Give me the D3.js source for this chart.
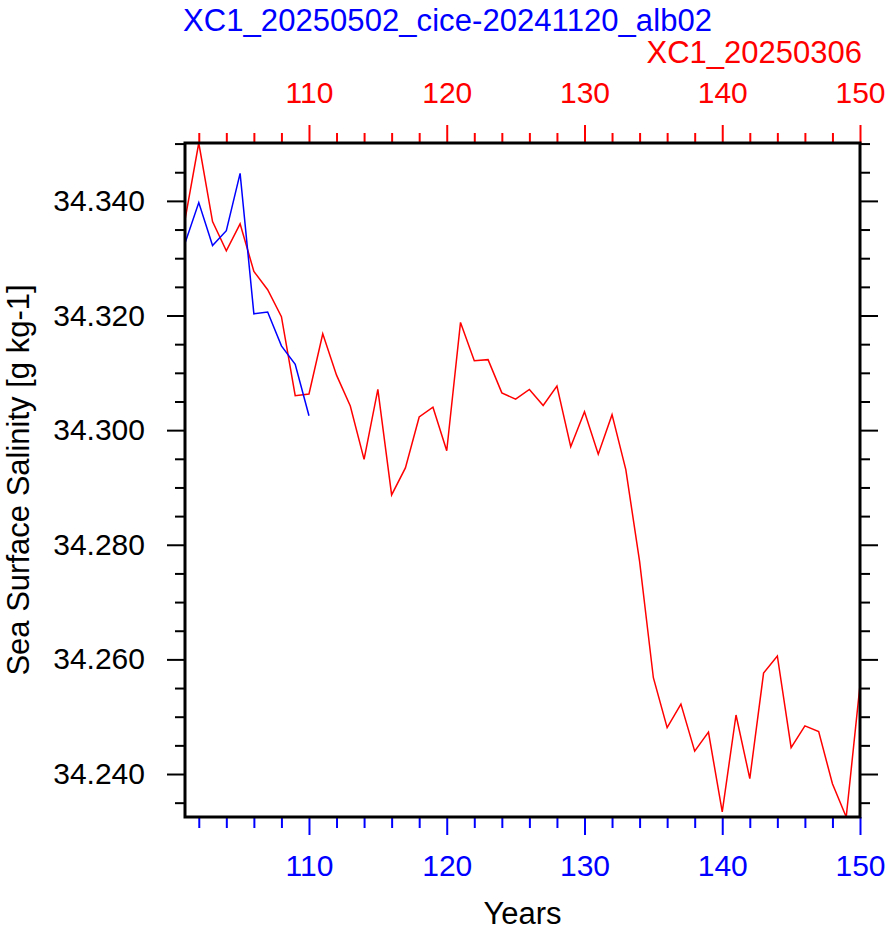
<!DOCTYPE html>
<html>
<head>
<meta charset="utf-8">
<script src="https://cdn.jsdelivr.net/npm/d3@7"></script>
<style>
  body { margin: 0; background: #fff; }
  text { font-family: "Liberation Sans", Arial, Helvetica, sans-serif; }
</style>
</head>
<body>
<div id="canvas"></div>
<script>
// years and salinity values (g/kg)
var yearsRed = d3.range(101, 151);
var sssRed = [34.3367, 34.3501, 34.3364, 34.3313, 34.3360, 34.3277, 34.3245, 34.3198, 34.3060, 34.3063,
              34.3168, 34.3096, 34.3042, 34.2949, 34.3071, 34.2887, 34.2934, 34.3023, 34.3040, 34.2964,
              34.3188, 34.3121, 34.3123, 34.3065, 34.3054, 34.3071, 34.3043, 34.3077, 34.2971, 34.3032,
              34.2958, 34.3027, 34.2931, 34.2771, 34.2568, 34.2481, 34.2522, 34.2440, 34.2473, 34.2334,
              34.2503, 34.2392, 34.2576, 34.2606, 34.2446, 34.2484, 34.2474, 34.2383, 34.2325, 34.2555];
var yearsBlue = d3.range(101, 111);
var sssBlue = [34.3326, 34.3397, 34.3322, 34.3348, 34.3448, 34.3203, 34.3206, 34.3147, 34.3115, 34.3025];
var yTicks = [34.24, 34.26, 34.28, 34.30, 34.32, 34.34];
var xTicks = [110, 120, 130, 140, 150];
var nameBlue = "XC1_20250502_cice-20241120_alb02";
var nameRed = "XC1_20250306";

var W = 889, H = 931;
var margin = {left: 185, right: 29, top: 143, bottom: 114};
var width = W - margin.left - margin.right;
var height = H - margin.top - margin.bottom;

var svg = d3.select("#canvas").append("svg")
  .attr("width", W)
  .attr("height", H);
var g = svg.append("g")
  .attr("transform", "translate(" + margin.left + "," + margin.top + ")");

var x = d3.scaleLinear().domain([101, 150]).range([0, width]);
var allVals = sssRed.concat(sssBlue);
var y = d3.scaleLinear().domain(d3.extent(allVals)).range([height, 0]);

var minorX = d3.range(102, 151, 2).filter((d) => d % 10 !== 0);
var minorY = d3.range(34.235, 34.3501, 0.005).filter((d) => Math.abs(Math.round(d * 1000) % 20) > 0.5 && d >= y.domain()[0]);

function styleAxis(sel, color) {
  sel.select(".domain").remove();
  sel.selectAll("line").attr("stroke", color).attr("stroke-width", 2);
  sel.selectAll("text").attr("fill", color).attr("font-size", "30px");
}

// bottom axis (blue)
g.append("g").attr("transform", "translate(0," + height + ")")
  .call(d3.axisBottom(x).tickValues(minorX).tickSize(11).tickFormat(""))
  .call(styleAxis, "blue");
g.append("g").attr("transform", "translate(0," + height + ")")
  .call(d3.axisBottom(x).tickValues(xTicks).tickSize(18).tickPadding(20).tickFormat(d3.format("d")))
  .call(styleAxis, "blue");

// top axis (red)
g.append("g")
  .call(d3.axisTop(x).tickValues(minorX).tickSize(10).tickFormat(""))
  .call(styleAxis, "red");
g.append("g")
  .call(d3.axisTop(x).tickValues(xTicks).tickSize(18).tickPadding(22).tickFormat(d3.format("d")))
  .call(styleAxis, "red");

// left / right axes
g.append("g")
  .call(d3.axisLeft(y).tickValues(minorY).tickSize(10).tickFormat(""))
  .call(styleAxis, "black");
g.append("g")
  .call(d3.axisLeft(y).tickValues(yTicks).tickSize(18).tickPadding(22).tickFormat(d3.format(".3f")))
  .call(styleAxis, "black");
g.append("g").attr("transform", "translate(" + width + ",0)")
  .call(d3.axisRight(y).tickValues(minorY).tickSize(10).tickFormat(""))
  .call(styleAxis, "black");
g.append("g").attr("transform", "translate(" + width + ",0)")
  .call(d3.axisRight(y).tickValues(yTicks).tickSize(18).tickFormat(""))
  .call(styleAxis, "black");

// lines
var line = d3.line().x((d) => x(d[0])).y((d) => y(d[1]));
g.append("path")
  .datum(yearsRed.map((d, i) => [d, sssRed[i]]))
  .attr("d", line)
  .attr("fill", "none").attr("stroke", "red").attr("stroke-width", 1.5);
g.append("path")
  .datum(yearsBlue.map((d, i) => [d, sssBlue[i]]))
  .attr("d", line)
  .attr("fill", "none").attr("stroke", "blue").attr("stroke-width", 1.5);

// frame
g.append("rect")
  .attr("width", width).attr("height", height)
  .attr("fill", "none").attr("stroke", "black").attr("stroke-width", 3);

// titles
svg.append("text")
  .attr("x", margin.left - 2).attr("y", 31)
  .attr("font-size", "31px").attr("fill", "blue")
  .attr("textLength", 529)
  .text(nameBlue);
svg.append("text")
  .attr("x", margin.left + width + 2).attr("y", 63)
  .attr("text-anchor", "end")
  .attr("font-size", "31px").attr("fill", "red")
  .text(nameRed);

// axis labels
svg.append("text")
  .attr("x", margin.left + width / 2).attr("y", 924)
  .attr("text-anchor", "middle")
  .attr("font-size", "31px")
  .text("Years");
svg.append("text")
  .attr("transform", "rotate(-90)")
  .attr("x", -(margin.top + height / 2)).attr("y", 29)
  .attr("text-anchor", "middle")
  .attr("font-size", "31px")
  .text("Sea Surface Salinity [g kg-1]");
</script>
</body>
</html>
